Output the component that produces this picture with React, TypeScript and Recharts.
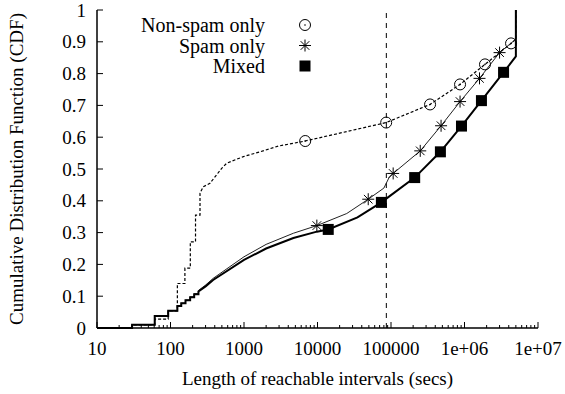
import React from 'react';
import {
  ComposedChart,
  Line,
  Scatter,
  XAxis,
  YAxis,
  ReferenceLine,
  Legend,
} from 'recharts';

const FONT = 'Liberation Serif, Tinos, DejaVu Serif, serif';
const FONT_SIZE = 19;
const textStyle = { fontFamily: FONT, fontSize: FONT_SIZE, fill: '#000' };

// axis ticks
const xMajorTicks = [10, 100, 1000, 10000, 100000, 1e6, 1e7];
const xTickLabels = ['10', '100', '1000', '10000', '100000', '1e+06', '1e+07'];
const xMinorTicks = xMajorTicks
  .slice(0, -1)
  .flatMap((d) => [2, 3, 4, 5, 6, 7, 8, 9].map((m) => m * d));
const xAllTicks = [...xMajorTicks, ...xMinorTicks].sort((a, b) => a - b);
const yTicks = [0, 0.1, 0.2, 0.3, 0.4, 0.5, 0.6, 0.7, 0.8, 0.9, 1];

// one day, in secs
const dayMark = 86400;

// CDF curves: [secs, cdf]
const nonSpamCurve = [
  [10, 0], [30, 0], [30, 0.01], [61, 0.01], [61, 0.028], [93, 0.028],
  [93, 0.054], [124, 0.054], [124, 0.14], [157, 0.14], [157, 0.188],
  [186, 0.188], [186, 0.271], [219, 0.271], [219, 0.355], [252, 0.355],
  [252, 0.424], [279, 0.444], [344, 0.455], [497, 0.502], [580, 0.518],
  [980, 0.539], [1650, 0.554], [2930, 0.572], [6800, 0.588], [86000, 0.646],
  [340000, 0.703], [870000, 0.766], [1.9e6, 0.829], [4.3e6, 0.895],
  [5.0e6, 0.908], [5.0e6, 1],
];
const spamCurve = [
  [10, 0], [30, 0], [30, 0.01], [61, 0.01], [61, 0.038], [93, 0.038],
  [93, 0.054], [124, 0.054], [124, 0.069], [140, 0.069], [140, 0.078],
  [160, 0.078], [160, 0.088], [185, 0.088], [185, 0.098], [210, 0.098],
  [210, 0.108], [240, 0.108], [240, 0.118], [300, 0.135], [380, 0.156],
  [1000, 0.224], [2000, 0.263], [4700, 0.298], [9800, 0.322], [25000, 0.36],
  [49000, 0.405], [80000, 0.44], [95000, 0.475], [107000, 0.486],
  [250000, 0.557], [480000, 0.636], [870000, 0.712], [1.6e6, 0.785],
  [3.0e6, 0.866], [5.0e6, 0.908], [5.0e6, 1],
];
const mixedCurve = [
  [10, 0], [30, 0], [30, 0.01], [61, 0.01], [61, 0.038], [93, 0.038],
  [93, 0.054], [124, 0.054], [124, 0.069], [140, 0.069], [140, 0.078],
  [160, 0.078], [160, 0.087], [185, 0.087], [185, 0.097], [210, 0.097],
  [210, 0.106], [240, 0.106], [240, 0.115], [300, 0.131], [380, 0.151],
  [1000, 0.214], [2000, 0.25], [4700, 0.283], [9800, 0.303], [14000, 0.31],
  [35000, 0.348], [74000, 0.395], [90000, 0.41], [210000, 0.473],
  [470000, 0.554], [910000, 0.635], [1.7e6, 0.715], [3.4e6, 0.804],
  [5.0e6, 0.854], [5.0e6, 1],
];

// point markers (gnuplot style, sparse)
const nonSpamMarks = [
  [6800, 0.588], [86000, 0.646], [340000, 0.703], [870000, 0.766],
  [1.9e6, 0.829], [4.3e6, 0.895],
];
const spamMarks = [
  [9800, 0.322], [49000, 0.405], [107000, 0.486], [250000, 0.557],
  [480000, 0.636], [870000, 0.712], [1.6e6, 0.785], [3.0e6, 0.866],
];
const mixedMarks = [
  [14000, 0.31], [74000, 0.395], [210000, 0.473], [470000, 0.554],
  [910000, 0.635], [1.7e6, 0.715], [3.4e6, 0.804],
];

const toRows = (pts: number[][]) => pts.map(([x, y]) => ({ x, y }));

const MAJOR = 6;
const MINOR = 3;

const CircleMark = ({ cx, cy }: any) => (
  <g>
    <circle cx={cx} cy={cy} r={5.5} fill="none" stroke="#000" strokeWidth={1} />
    <circle cx={cx} cy={cy} r={0.8} fill="#000" />
  </g>
);

const StarMark = ({ cx, cy }: any) => {
  const s = 6;
  const d = 4.3;
  return (
    <g stroke="#000" strokeWidth={1}>
      <line x1={cx - s} x2={cx + s} y1={cy} y2={cy} />
      <line x1={cx} x2={cx} y1={cy - s} y2={cy + s} />
      <line x1={cx - d} x2={cx + d} y1={cy - d} y2={cy + d} />
      <line x1={cx - d} x2={cx + d} y1={cy + d} y2={cy - d} />
    </g>
  );
};

const SquareMark = ({ cx, cy }: any) => (
  <rect x={cx - 5.5} y={cy - 5.5} width={11} height={11} fill="#000" />
);

const BottomTick = ({ x, y, payload }: any) => {
  const idx = xMajorTicks.indexOf(payload.value);
  const major = idx >= 0;
  return (
    <g>
      <line x1={x} x2={x} y1={y} y2={y - (major ? MAJOR : MINOR)} stroke="#000" />
      {major && (
        <text x={x} y={y + 27} textAnchor="middle" style={textStyle}>
          {xTickLabels[idx]}
        </text>
      )}
    </g>
  );
};

const TopTick = ({ x, y, payload }: any) => {
  const major = xMajorTicks.includes(payload.value);
  return <line x1={x} x2={x} y1={y} y2={y + (major ? MAJOR : MINOR)} stroke="#000" />;
};

const LeftTick = ({ x, y, payload }: any) => (
  <g>
    <line x1={x} x2={x + MAJOR} y1={y} y2={y} stroke="#000" />
    <text x={x - 11} y={y} dy="0.35em" textAnchor="end" style={textStyle}>
      {String(payload.value)}
    </text>
  </g>
);

const RightTick = ({ x, y }: any) => (
  <line x1={x} x2={x - MAJOR} y1={y} y2={y} stroke="#000" />
);

const legendRows = [
  { label: 'Non-spam only', Mark: CircleMark },
  { label: 'Spam only', Mark: StarMark },
  { label: 'Mixed', Mark: SquareMark },
];

const LegendBox = () => (
  <svg width={330} height={90} style={{ display: 'block' }}>
    {legendRows.map(({ label, Mark }, i) => (
      <g key={label}>
        <text x={265} y={32 + i * 20.5} textAnchor="end" style={{ ...textStyle, fontSize: 20 }}>
          {label}
        </text>
        <Mark cx={305} cy={25 + i * 20.5} />
      </g>
    ))}
  </svg>
);

export default function App() {
  return (
    <div style={{ position: 'absolute', left: 0, top: 0, width: 565, height: 394, background: '#fff', fontFamily: FONT }}>
      <ComposedChart width={565} height={394} margin={{ top: 10, right: 27, bottom: 0, left: 0 }}>
        <XAxis
          xAxisId="b"
          dataKey="x"
          type="number"
          scale="log"
          domain={[10, 1e7]}
          allowDataOverflow
          ticks={xAllTicks}
          interval={0}
          height={66}
          tickSize={0}
          tickMargin={0}
          tickLine={false}
          tick={<BottomTick />}
          axisLine={{ stroke: '#000', strokeWidth: 1.5 }}
          label={{
            value: 'Length of reachable intervals (secs)',
            position: 'insideBottom',
            offset: 9,
            style: textStyle,
          }}
        />
        <XAxis
          xAxisId="t"
          orientation="top"
          type="number"
          scale="log"
          domain={[10, 1e7]}
          allowDataOverflow
          ticks={xAllTicks}
          interval={0}
          height={0}
          tickSize={0}
          tickMargin={0}
          tickLine={false}
          tick={<TopTick />}
          axisLine={{ stroke: '#000', strokeWidth: 1.5 }}
        />
        <YAxis
          yAxisId="l"
          dataKey="y"
          type="number"
          domain={[0, 1]}
          ticks={yTicks}
          interval={0}
          width={97}
          tickSize={0}
          tickMargin={0}
          tickLine={false}
          tick={<LeftTick />}
          axisLine={{ stroke: '#000', strokeWidth: 1.5 }}
          label={{
            value: 'Cumulative Distribution Function (CDF)',
            angle: -90,
            position: 'insideLeft',
            offset: 16,
            style: { ...textStyle, textAnchor: 'middle' },
          }}
        />
        <YAxis
          yAxisId="r"
          orientation="right"
          type="number"
          domain={[0, 1]}
          ticks={yTicks}
          interval={0}
          width={0}
          tickSize={0}
          tickMargin={0}
          tickLine={false}
          tick={<RightTick />}
          axisLine={{ stroke: '#000', strokeWidth: 1.5 }}
        />
        <ReferenceLine
          x={dayMark}
          xAxisId="b"
          yAxisId="l"
          stroke="#000"
          strokeWidth={1}
          strokeDasharray="5 5"
        />
        <Line
          xAxisId="b"
          yAxisId="l"
          data={toRows(nonSpamCurve)}
          dataKey="y"
          type="linear"
          stroke="#000"
          strokeWidth={1.2}
          strokeDasharray="3 2"
          dot={false}
          isAnimationActive={false}
        />
        <Line
          xAxisId="b"
          yAxisId="l"
          data={toRows(spamCurve)}
          dataKey="y"
          type="linear"
          stroke="#222"
          strokeWidth={1}
          dot={false}
          isAnimationActive={false}
        />
        <Line
          xAxisId="b"
          yAxisId="l"
          data={toRows(mixedCurve)}
          dataKey="y"
          type="linear"
          stroke="#000"
          strokeWidth={2}
          dot={false}
          isAnimationActive={false}
        />
        <Scatter xAxisId="b" yAxisId="l" data={toRows(nonSpamMarks)} dataKey="y" shape={<CircleMark />} isAnimationActive={false} />
        <Scatter xAxisId="b" yAxisId="l" data={toRows(spamMarks)} dataKey="y" shape={<StarMark />} isAnimationActive={false} />
        <Scatter xAxisId="b" yAxisId="l" data={toRows(mixedMarks)} dataKey="y" shape={<SquareMark />} isAnimationActive={false} />
        <Legend
          layout="vertical"
          align="center"
          verticalAlign="middle"
          content={() => <LegendBox />}
          wrapperStyle={{ position: 'absolute', left: 0, top: 0, width: 330, height: 90 }}
        />
      </ComposedChart>
    </div>
  );
}
